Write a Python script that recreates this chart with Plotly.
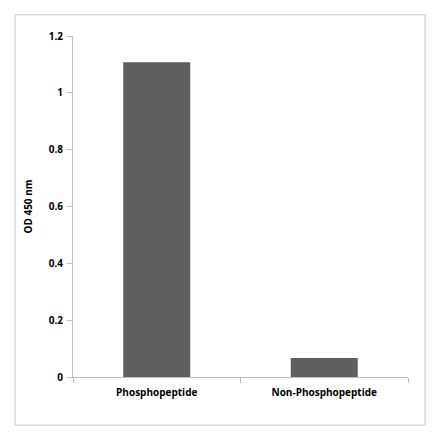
import plotly.graph_objects as go

categories = ["Phosphopeptide", "Non-Phosphopeptide"]
od_values = [1.108, 0.067]
y_ticks = [0, 0.2, 0.4, 0.6, 0.8, 1, 1.2]
y_tick_labels = ["0", "0.2", "0.4", "0.6", "0.8", "1", "1.2"]

FONT = "Open Sans, Liberation Sans, Arial, sans-serif"
AXIS_GREY = "#bfbfbf"

fig = go.Figure(
    go.Bar(x=categories, y=od_values, marker=dict(color="#5f5f5f", line=dict(width=0)))
)

# page has an 8px body margin, so margins are offset accordingly
fig.update_layout(
    width=440, height=441,
    margin=dict(l=65, r=40, t=28, b=72),
    paper_bgcolor="white", plot_bgcolor="white",
    bargap=0.6,
    showlegend=False,
    font=dict(family=FONT, size=10, color="#000000"),
)

fig.update_xaxes(
    showline=True, linecolor=AXIS_GREY, linewidth=1,
    ticks="outside", tickson="boundaries", ticklen=5, tickcolor=AXIS_GREY,
    tickfont=dict(family=FONT, size=10, weight="bold"),
    ticklabelstandoff=6,
    showgrid=False,
)
fig.update_yaxes(
    range=[0, 1.2], tickvals=y_ticks, ticktext=y_tick_labels,
    showline=True, linecolor=AXIS_GREY, linewidth=1,
    ticks="outside", ticklen=5, tickcolor=AXIS_GREY,
    tickfont=dict(family=FONT, size=10, weight="bold"),
    ticklabelstandoff=2,
    showgrid=False, zeroline=False,
    title=dict(text="OD 450 nm", font=dict(family=FONT, size=10, weight="bold"), standoff=14),
)

# outer chart border
fig.add_shape(
    type="rect", xref="paper", yref="paper",
    x0=-0.173, x1=1.051, y0=-0.141, y1=1.062,
    line=dict(color="#c8c8c8", width=1), layer="below",
)

fig.write_html("out.html")
